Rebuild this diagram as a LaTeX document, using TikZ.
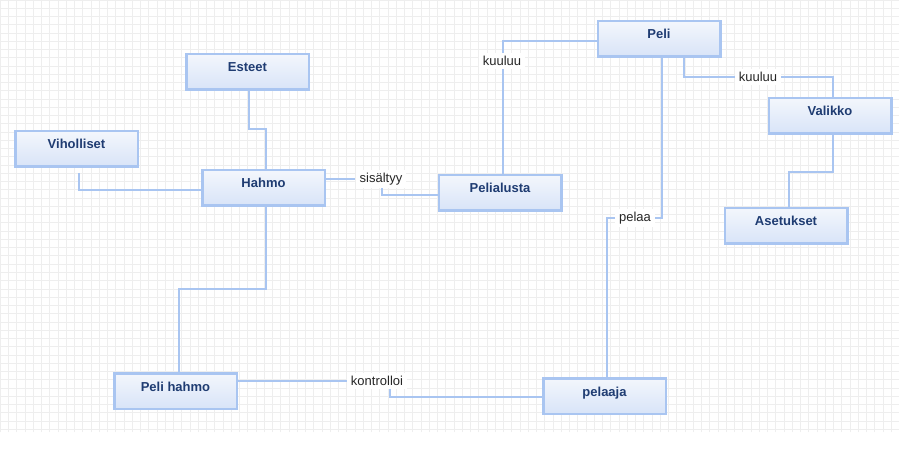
\documentclass[tikz,border=0pt]{standalone}
\usepackage{fontspec}
\setmainfont{Liberation Sans}
\definecolor{edge}{HTML}{A9C5F1}
\definecolor{boxtop}{HTML}{F3F6FC}
\definecolor{boxbot}{HTML}{D8E4F8}
\definecolor{navy}{HTML}{1F3C72}
\definecolor{gridc}{HTML}{EEEEEE}
\begin{document}
\begin{tikzpicture}[x=1pt,y=-1pt,
  ent/.style={draw=edge, line width=2.5pt, top color=boxtop, bottom color=boxbot,
    minimum width=122.5pt, minimum height=35.5pt, inner sep=0pt,
    text height=10pt, text depth=10pt,
    font=\bfseries\fontsize{13}{15}\selectfont, text=navy},
  conn/.style={draw=edge, line width=2.3pt},
  rel/.style={fill=white, font=\fontsize{13}{15}\selectfont, text=black!85,
    inner xsep=4pt, inner ysep=3pt}]
\useasboundingbox (0pt,0pt) rectangle (899pt,-470pt);
\fill[white] (0pt,0pt) rectangle (899pt,-470pt);
\draw[gridc, line width=0.5pt, step=8.25pt] (0pt,-432pt) grid (899pt,0pt);

% entities
\node[ent] (esteet)    at (247.5,72)  {Esteet};
\node[ent] (vih)       at (76.5,149)  {Viholliset};
\node[ent] (hahmo)     at (263.5,188) {Hahmo};
\node[ent] (alusta)    at (500,193)   {Pelialusta};
\node[ent] (peli)      at (659,39)    {Peli};
\node[ent] (valikko)   at (830,116)   {Valikko};
\node[ent] (asetukset) at (786,226)   {Asetukset};
\node[ent] (pelihahmo) at (175.5,391) {Peli hahmo};
\node[ent] (pelaaja)   at (604.5,396) {pelaaja};

% relation labels
\node[rel] (sis) at (381,179) {sisältyy};
\node[rel] (kl)  at (502,61)  {kuuluu};
\node[rel] (kr)  at (758,77)  {kuuluu};
\node[rel] (pl)  at (635,218) {pelaa};
\node[rel] (ko)  at (377,381) {kontrolloi};

% connectors
\draw[conn] ([xshift=1.5pt]esteet.south) -- ++(0,38) -| ([xshift=2.5pt]hahmo.north);
\draw[conn] ([xshift=2.5pt,yshift=-5pt]vih.south) |- ([yshift=-2pt]hahmo.west);

\draw[conn] ([yshift=9pt]hahmo.east) -- ([yshift=9pt]hahmo.east -| sis.west);
\draw[conn] ([xshift=1pt]sis.south) |- ([yshift=-2pt]alusta.west);

\draw[conn] ([xshift=3pt]alusta.north) -- ([xshift=3pt]alusta.north |- kl.south);
\draw[conn] ([xshift=3pt]alusta.north |- kl.north) |- ([yshift=-2pt]peli.west);

\draw[conn] ([xshift=25pt]peli.south) |- (kr.west);
\draw[conn] (kr.east) -| ([xshift=3pt]valikko.north);

\draw[conn] ([xshift=3pt]valikko.south) -- ++(0,37) -| ([xshift=3pt]asetukset.north);

\draw[conn] ([xshift=3pt]peli.south) |- (pl.east);
\draw[conn] (pl.west) -| ([xshift=2.5pt]pelaaja.north);

\draw[conn] ([xshift=2.5pt]hahmo.south) -- ++(0,82) -| ([xshift=3.5pt]pelihahmo.north);

\draw[conn] ([yshift=10pt]pelihahmo.east) -- ([yshift=10pt]pelihahmo.east -| ko.west);
\draw[conn] ([xshift=13pt]ko.south) |- ([yshift=-1pt]pelaaja.west);
\end{tikzpicture}
\end{document}
